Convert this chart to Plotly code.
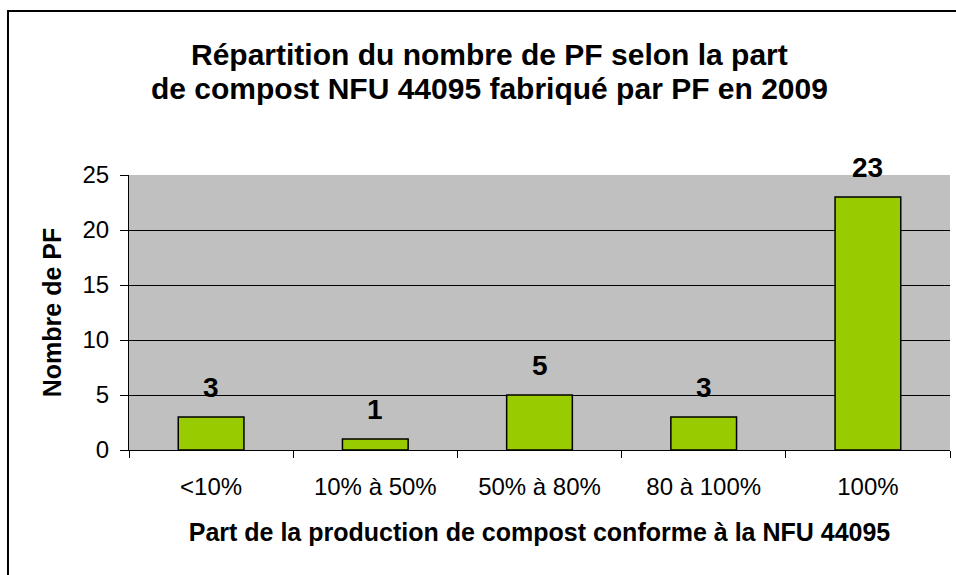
import plotly.graph_objects as go

categories = ["<10%", "10% à 50%", "50% à 80%", "80 à 100%", "100%"]
nb_pf = [3, 1, 5, 3, 23]
y_ticks = [0, 5, 10, 15, 20, 25]
title_lines = ["Répartition du nombre de PF selon la part",
               "de compost NFU 44095 fabriqué par PF en 2009"]

font = "Liberation Sans, Arial, sans-serif"

fig = go.Figure()
fig.add_trace(go.Bar(
    x=categories, y=nb_pf, width=0.4,
    marker=dict(color="#99CC00", line=dict(color="black", width=1.5)),
    hoverinfo="x+y",
))

# data labels above the bars
for cat, val in zip(categories, nb_pf):
    fig.add_annotation(x=cat, y=val, text=f"<b>{val}</b>", showarrow=False,
                       yanchor="bottom", yshift=12,
                       font=dict(size=28, color="black", family=font))

# title, one annotation per line
for line, ypos in zip(title_lines, [1.44, 1.316]):
    fig.add_annotation(xref="paper", yref="paper", x=0.4397, y=ypos,
                       xanchor="center", yanchor="middle", showarrow=False,
                       text=f"<b>{line}</b>",
                       font=dict(size=30, color="black", family=font))

# outer chart border
fig.add_shape(type="rect", xref="paper", yref="paper",
              x0=-0.1474, x1=1.03, y0=-0.5, y1=1.596,
              line=dict(color="black", width=2), layer="below")

fig.update_xaxes(
    type="category", tickson="boundaries", ticks="outside", ticklen=7,
    tickcolor="black", showline=True, linecolor="black", linewidth=1,
    tickfont=dict(size=24, color="black", family=font), ticklabelstandoff=15,
    title=dict(text="<b>Part de la production de compost conforme à la NFU 44095</b>",
               font=dict(size=25, color="black", family=font), standoff=24),
    showgrid=False,
)
fig.update_yaxes(
    range=[0, 25], tickvals=y_ticks, ticks="outside", ticklen=8,
    tickcolor="black", showline=True, linecolor="black", linewidth=1,
    gridcolor="black", gridwidth=1, zeroline=False,
    tickfont=dict(size=24, color="black", family=font), ticklabelstandoff=6,
    title=dict(text="<b>Nombre de PF</b>",
               font=dict(size=25, color="black", family=font), standoff=13),
)

fig.update_layout(
    width=956, height=575,
    margin=dict(l=129, r=6, t=175, b=125),
    plot_bgcolor="#C0C0C0", paper_bgcolor="white",
    showlegend=False, bargap=0.6,
    font=dict(family=font, color="black"),
)

fig.write_html("out.html", config={"displayModeBar": False},
               post_script="document.body.style.margin='0';")
